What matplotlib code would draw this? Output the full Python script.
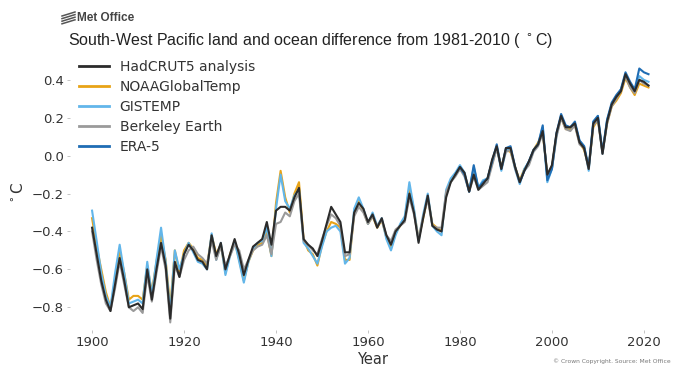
import numpy as np
import matplotlib
matplotlib.use("Agg")
import matplotlib.pyplot as plt
from matplotlib.lines import Line2D

years = np.arange(1900, 2022)
era5_years = np.arange(1979, 2022)

# annual anomalies (degC) relative to 1981-2010
hadcrut5 = [
    -0.38, -0.52, -0.66, -0.76, -0.82, -0.68, -0.54, -0.66, -0.80, -0.79,
    -0.78, -0.81, -0.60, -0.76, -0.60, -0.46, -0.58, -0.86, -0.56, -0.64,
    -0.52, -0.47, -0.50, -0.55, -0.56, -0.60, -0.42, -0.53, -0.46, -0.60,
    -0.52, -0.44, -0.52, -0.63, -0.55, -0.48, -0.46, -0.44, -0.35, -0.47,
    -0.29, -0.27, -0.27, -0.29, -0.22, -0.17, -0.44, -0.47, -0.49, -0.53,
    -0.45, -0.36, -0.27, -0.31, -0.35, -0.51, -0.51, -0.30, -0.25, -0.28,
    -0.35, -0.31, -0.38, -0.33, -0.42, -0.47, -0.40, -0.37, -0.34, -0.20,
    -0.30, -0.46, -0.33, -0.21, -0.37, -0.39, -0.40, -0.22, -0.14, -0.10,
    -0.06, -0.09, -0.19, -0.10, -0.18, -0.15, -0.12, -0.02, 0.05, -0.07,
    0.04, 0.04, -0.06, -0.14, -0.08, -0.03, 0.03, 0.06, 0.13, -0.10,
    -0.05, 0.12, 0.21, 0.15, 0.15, 0.17, 0.07, 0.04, -0.07, 0.17,
    0.20, 0.01, 0.18, 0.27, 0.31, 0.34, 0.43, 0.38, 0.34, 0.40,
    0.39, 0.37,
]

noaa = [
    -0.33, -0.48, -0.60, -0.72, -0.80, -0.66, -0.50, -0.62, -0.76, -0.74,
    -0.74, -0.76, -0.58, -0.72, -0.56, -0.42, -0.55, -0.80, -0.50, -0.62,
    -0.50, -0.46, -0.49, -0.54, -0.55, -0.58, -0.42, -0.52, -0.47, -0.62,
    -0.52, -0.45, -0.55, -0.66, -0.56, -0.50, -0.47, -0.46, -0.40, -0.53,
    -0.25, -0.08, -0.22, -0.30, -0.20, -0.14, -0.44, -0.50, -0.52, -0.58,
    -0.47, -0.40, -0.35, -0.36, -0.38, -0.55, -0.55, -0.30, -0.24, -0.29,
    -0.36, -0.32, -0.38, -0.34, -0.43, -0.49, -0.41, -0.37, -0.33, -0.17,
    -0.29, -0.44, -0.33, -0.22, -0.36, -0.38, -0.40, -0.20, -0.13, -0.10,
    -0.07, -0.10, -0.18, -0.08, -0.17, -0.14, -0.12, -0.04, 0.04, -0.06,
    0.03, 0.02, -0.06, -0.13, -0.07, -0.04, 0.03, 0.07, 0.12, -0.10,
    -0.06, 0.11, 0.20, 0.14, 0.14, 0.16, 0.07, 0.03, -0.06, 0.15,
    0.19, 0.02, 0.17, 0.26, 0.29, 0.33, 0.41, 0.36, 0.32, 0.38,
    0.37, 0.36,
]

gistemp = [
    -0.29, -0.45, -0.62, -0.74, -0.80, -0.62, -0.47, -0.62, -0.78, -0.77,
    -0.76, -0.78, -0.56, -0.74, -0.55, -0.38, -0.56, -0.83, -0.50, -0.60,
    -0.52, -0.46, -0.51, -0.56, -0.57, -0.60, -0.41, -0.55, -0.46, -0.63,
    -0.53, -0.45, -0.56, -0.67, -0.56, -0.49, -0.46, -0.45, -0.38, -0.53,
    -0.28, -0.10, -0.24, -0.28, -0.21, -0.18, -0.46, -0.49, -0.53, -0.57,
    -0.48, -0.40, -0.38, -0.37, -0.40, -0.57, -0.54, -0.28, -0.22, -0.28,
    -0.36, -0.30, -0.37, -0.33, -0.44, -0.50, -0.42, -0.36, -0.32, -0.14,
    -0.28, -0.45, -0.31, -0.20, -0.37, -0.40, -0.42, -0.18, -0.12, -0.09,
    -0.05, -0.09, -0.19, -0.06, -0.17, -0.13, -0.12, -0.03, 0.05, -0.08,
    0.03, 0.04, -0.07, -0.15, -0.07, -0.03, 0.03, 0.06, 0.15, -0.14,
    -0.07, 0.11, 0.21, 0.15, 0.15, 0.17, 0.08, 0.05, -0.08, 0.18,
    0.21, 0.01, 0.19, 0.27, 0.31, 0.35, 0.43, 0.38, 0.34, 0.42,
    0.40, 0.39,
]

berkeley = [
    -0.40, -0.55, -0.68, -0.78, -0.82, -0.70, -0.56, -0.68, -0.80, -0.82,
    -0.80, -0.83, -0.63, -0.77, -0.62, -0.48, -0.60, -0.88, -0.58, -0.64,
    -0.55, -0.50, -0.48, -0.52, -0.54, -0.57, -0.45, -0.55, -0.48, -0.58,
    -0.53, -0.47, -0.50, -0.60, -0.55, -0.50, -0.48, -0.47, -0.42, -0.52,
    -0.36, -0.35, -0.30, -0.32, -0.24, -0.20, -0.45, -0.47, -0.50, -0.52,
    -0.44, -0.37, -0.31, -0.33, -0.37, -0.53, -0.52, -0.32, -0.27, -0.30,
    -0.36, -0.32, -0.37, -0.34, -0.42, -0.45, -0.39, -0.37, -0.35, -0.22,
    -0.31, -0.44, -0.32, -0.23, -0.37, -0.38, -0.38, -0.19, -0.14, -0.11,
    -0.07, -0.11, -0.19, -0.11, -0.18, -0.16, -0.14, -0.05, 0.04, -0.07,
    0.02, 0.03, -0.07, -0.14, -0.08, -0.05, 0.02, 0.05, 0.12, -0.10,
    -0.07, 0.10, 0.20, 0.14, 0.13, 0.16, 0.06, 0.04, -0.07, 0.16,
    0.19, 0.01, 0.17, 0.26, 0.30, 0.34, 0.42, 0.36, 0.33, 0.40,
    0.38, 0.37,
]

era5 = [
    -0.10,
    -0.06, -0.10, -0.19, -0.05, -0.17, -0.14, -0.12, -0.03, 0.06, -0.07,
    0.04, 0.05, -0.06, -0.14, -0.08, -0.03, 0.03, 0.06, 0.16, -0.13,
    -0.07, 0.12, 0.22, 0.16, 0.15, 0.18, 0.08, 0.05, -0.06, 0.18,
    0.21, 0.02, 0.19, 0.28, 0.32, 0.35, 0.44, 0.39, 0.35, 0.46,
    0.44, 0.43,
]

labels = ["HadCRUT5 analysis", "NOAAGlobalTemp", "GISTEMP", "Berkeley Earth", "ERA-5"]
colors = ["#2b2b2b", "#e8a317", "#62b6ea", "#9a9a9a", "#1f6db4"]

fig = plt.figure(figsize=(6.77, 3.66), dpi=100)
ax = fig.add_axes([70 / 677, 36 / 366, 607 / 677, 274 / 366])

lw = 1.5
ax.plot(years, noaa, color=colors[1], lw=lw)
ax.plot(years, gistemp, color=colors[2], lw=lw)
ax.plot(years, berkeley, color=colors[3], lw=lw)
ax.plot(era5_years, era5, color=colors[4], lw=lw)
ax.plot(years, hadcrut5, color=colors[0], lw=lw)

handles = [Line2D([], [], color=c, lw=2.0) for c in colors]
ax.legend(handles, labels, loc="upper left", frameon=False, fontsize=10,
          bbox_to_anchor=(-0.005, 1.03), handlelength=2.1, labelspacing=0.42,
          handletextpad=0.8, labelcolor="#333333")

ax.set_xlim(1895.2, 2027.2)
ax.set_ylim(-0.92, 0.526)
ax.set_xticks(np.arange(1900, 2021, 20))
ax.set_yticks(np.arange(-0.8, 0.41, 0.2))
for s in ax.spines.values():
    s.set_visible(False)
ax.tick_params(length=2.5, width=0.6, color="#bbbbbb", labelsize=9.5,
               labelcolor="#333333", pad=2)

ax.set_ylabel("$^\\circ$C", fontsize=11, color="#333333", labelpad=4)

fig.text(373 / 677, 7 / 366, "Year", ha="center", va="center", fontsize=10.5,
         color="#333333")

fig.text(68 / 677, 1 - 40 / 366,
         "South-West Pacific land and ocean difference from 1981-2010 ( $^\\circ$C)",
         ha="left", va="center", fontsize=11.5, color="#222222",
         family="Liberation Sans")

# Met Office mark
for i in range(4):
    y0 = 1 - (13 + i * 2.6) / 366
    fig.add_artist(Line2D([62 / 677, 75 / 677], [y0 - 3 / 366, y0 + 1 / 366],
                          transform=fig.transFigure, color="#555555", lw=1.1))
fig.text(77 / 677, 1 - 18 / 366, "Met Office", ha="left", va="center",
         fontsize=8.5, fontweight="bold", color="#444444", family="Liberation Sans")

fig.text(553 / 677, 5 / 366, "\u00a9 Crown Copyright. Source: Met Office",
         ha="left", va="center", fontsize=4.3, color="#777777")

fig.savefig("out.png", dpi=100)
